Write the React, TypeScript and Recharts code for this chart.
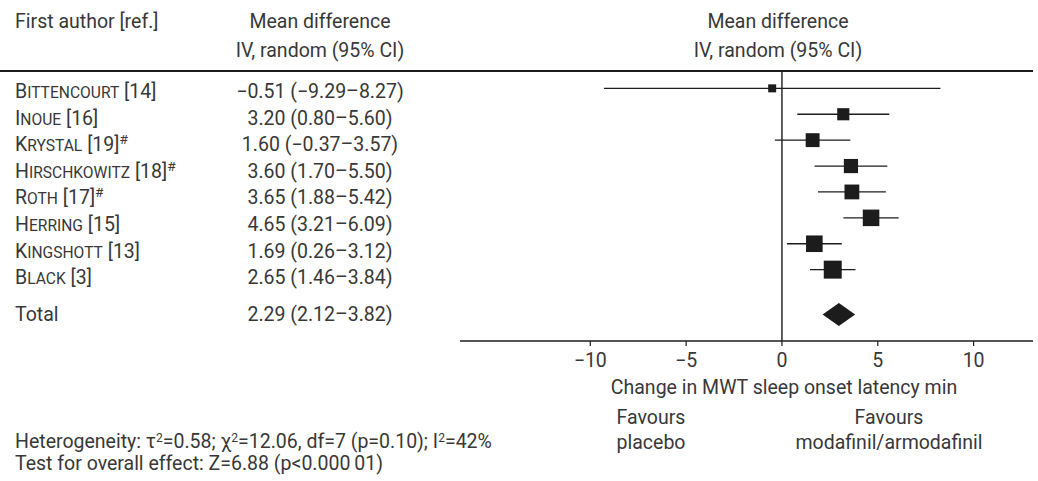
import React from "react";
import {
  ScatterChart,
  Scatter,
  XAxis,
  YAxis,
  ErrorBar,
  ReferenceLine,
} from "recharts";

// study rows, top to bottom
const authors = [
  "Bittencourt",
  "Inoue",
  "Krystal",
  "Hirschkowitz",
  "Roth",
  "Herring",
  "Kingshott",
  "Black",
];
const refs = ["[14]", "[16]", "[19]", "[18]", "[17]", "[15]", "[13]", "[3]"];
const hashMark = [false, false, true, true, true, false, false, false];
const meanDiff = [-0.51, 3.2, 1.6, 3.6, 3.65, 4.65, 1.69, 2.65];
const ciLow = [-9.29, 0.8, -0.37, 1.7, 1.88, 3.21, 0.26, 1.46];
const ciHigh = [8.27, 5.6, 3.57, 5.5, 5.42, 6.09, 3.12, 3.84];

const totalMd = 2.29;
const totalLow = 2.12;
const totalHigh = 3.82;
const tau2 = 0.58;

const xTicks = [-10, -5, 0, 5, 10];

// layout
const W = 1038;
const H = 481;
const PLOT_LEFT = 460;
const PLOT_RIGHT = 1033;
const PLOT_TOP = 71;
const PLOT_BOTTOM = 341;
const AXIS_H = 30;
const X_DOMAIN: [number, number] = [-16.8, 13.1];
const Y_DOMAIN: [number, number] = [-0.67, 9.755];
const TOTAL_ROW = 8.73;
const INK = "#1c1c1c";
const TEXT = "#383838";
const FONT = "Roboto, sans-serif";
const FS = 19.5;

const pxPerUnit = (PLOT_RIGHT - PLOT_LEFT) / (X_DOMAIN[1] - X_DOMAIN[0]);

// random-effects weight -> box side
const boxSide = (lo: number, hi: number) => {
  const se = (hi - lo) / 3.92;
  const w = 1 / (se * se + tau2);
  return Math.max(8, 17.5 * Math.sqrt(w));
};

const rows = authors.map((name, i) => ({
  name,
  row: i,
  md: meanDiff[i],
  lo: ciLow[i],
  hi: ciHigh[i],
  side: boxSide(ciLow[i], ciHigh[i]),
}));

const totalRow = [{ name: "Total", row: TOTAL_ROW, md: totalMd, lo: totalLow, hi: totalHigh }];

const fmt = (v: number) => (v < 0 ? `\u2212${Math.abs(v).toFixed(2)}` : v.toFixed(2));
const ciText = (md: number, lo: number, hi: number) =>
  `${fmt(md)} (${fmt(lo)}\u2013${fmt(hi)})`;

const Square = (props: any) => {
  const { cx, cy, payload } = props;
  const s = payload.side;
  return <rect x={cx - s / 2} y={cy - s / 2} width={s} height={s} fill={INK} />;
};

const Diamond = (props: any) => {
  const { cx, cy, payload } = props;
  const left = cx - (payload.md - payload.lo) * pxPerUnit;
  const right = cx + (payload.hi - payload.md) * pxPerUnit;
  const mid = (left + right) / 2;
  const h = 11.5;
  return (
    <polygon
      points={`${left},${cy} ${mid},${cy - h} ${right},${cy} ${mid},${cy + h}`}
      fill={INK}
    />
  );
};

const Txt = ({
  x,
  y,
  anchor = "start",
  children,
}: {
  x: number;
  y: number;
  anchor?: "start" | "middle";
  children: React.ReactNode;
}) => (
  <div
    style={{
      position: "absolute",
      left: x,
      top: y,
      transform: `translate(${anchor === "middle" ? "-50%" : "0"}, -50%)`,
      whiteSpace: "nowrap",
      lineHeight: 1,
      textAlign: anchor === "middle" ? "center" : "left",
    }}
  >
    {children}
  </div>
);

const sup = (s: string, size = "0.62em") => (
  <sup style={{ fontSize: size, verticalAlign: "0.55em", lineHeight: 0 }}>{s}</sup>
);

// author names in small capitals: first letter full size, rest reduced caps
const SmallCaps = ({ name }: { name: string }) => (
  <>
    {name.slice(0, 1)}
    <span style={{ textTransform: "uppercase", fontSize: "0.8em" }}>{name.slice(1)}</span>
  </>
);

const textRowY = (i: number) => 92 + 26.6 * i;

export default function App() {
  return (
    <div
      style={{
        position: "absolute",
        left: 0,
        top: 0,
        width: W,
        height: H,
        background: "#fff",
        fontFamily: FONT,
        fontSize: FS,
        color: TEXT,
      }}
    >
      <ScatterChart
        width={W}
        height={H}
        margin={{
          top: PLOT_TOP,
          right: W - PLOT_RIGHT,
          bottom: H - PLOT_BOTTOM - AXIS_H,
          left: PLOT_LEFT,
        }}
      >
        <XAxis
          type="number"
          dataKey="md"
          domain={X_DOMAIN}
          ticks={xTicks}
          allowDataOverflow
          height={AXIS_H}
          axisLine={{ stroke: INK, strokeWidth: 1.5 }}
          tickLine={{ stroke: INK, strokeWidth: 1.2 }}
          tickSize={5}
          tickMargin={7}
          tick={{ fill: TEXT, fontSize: FS, fontFamily: FONT }}
          tickFormatter={(v: number) => (v < 0 ? `\u2212${Math.abs(v)}` : `${v}`)}
        />
        <YAxis type="number" dataKey="row" domain={Y_DOMAIN} reversed hide allowDataOverflow />
        <ReferenceLine x={0} stroke={INK} strokeWidth={1.4} />
        <Scatter data={rows} shape={Square} isAnimationActive={false}>
          <ErrorBar
            dataKey={(d: any) => [d.md - d.lo, d.hi - d.md]}
            direction="x"
            width={0}
            stroke={INK}
            strokeWidth={1.3}
            isAnimationActive={false}
          />
        </Scatter>
        <Scatter data={totalRow} shape={Diamond} isAnimationActive={false} />
      </ScatterChart>

      {/* top rule */}
      <div
        style={{
          position: "absolute",
          left: 0,
          top: PLOT_TOP - 0.75,
          width: PLOT_RIGHT,
          height: 1.5,
          background: INK,
        }}
      />

      <Txt x={15} y={22}>First author [ref.]</Txt>
      <Txt x={320} y={22} anchor="middle">Mean difference</Txt>
      <Txt x={320} y={51} anchor="middle">IV, random (95% CI)</Txt>
      <Txt x={778} y={22} anchor="middle">Mean difference</Txt>
      <Txt x={778} y={51} anchor="middle">IV, random (95% CI)</Txt>

      {rows.map((r, i) => (
        <React.Fragment key={r.name}>
          <Txt x={15} y={textRowY(i)}>
            <SmallCaps name={r.name} /> {refs[i]}
            {hashMark[i] ? sup("#", "0.7em") : null}
          </Txt>
          <Txt x={320} y={textRowY(i)} anchor="middle">
            {ciText(r.md, r.lo, r.hi)}
          </Txt>
        </React.Fragment>
      ))}
      <Txt x={15} y={315}>Total</Txt>
      <Txt x={320} y={315} anchor="middle">
        {ciText(totalMd, totalLow, totalHigh)}
      </Txt>

      <Txt x={784} y={388} anchor="middle">Change in MWT sleep onset latency min</Txt>
      <Txt x={651} y={418} anchor="middle">Favours</Txt>
      <Txt x={651} y={443} anchor="middle">placebo</Txt>
      <Txt x={889} y={418} anchor="middle">Favours</Txt>
      <Txt x={889} y={443} anchor="middle">modafinil/armodafinil</Txt>

      <Txt x={15} y={442}>
        Heterogeneity: {"\u03c4"}
        {sup("2")}=0.58; {"\u03c7"}
        {sup("2")}=12.06, df=7 (p=0.10); I{sup("2")}=42%
      </Txt>
      <Txt x={15} y={464}>Test for overall effect: Z=6.88 (p&lt;0.000{"\u2009"}01)</Txt>
    </div>
  );
}
